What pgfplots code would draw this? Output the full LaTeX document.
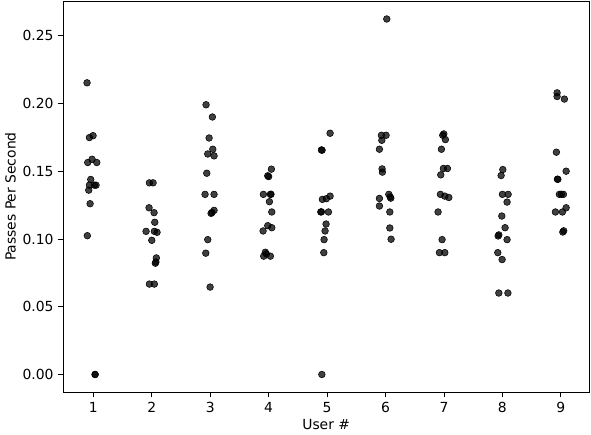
\documentclass[border=0pt]{standalone}
\usepackage{fontspec}
\setmainfont{DejaVu Sans}
\usepackage{pgfplots}
\pgfplotsset{compat=1.18}
\begin{document}
\begin{tikzpicture}
\begin{axis}[
    scale only axis,
    width=378.5pt, height=281.7pt,
    xmin=0.486, xmax=9.484,
    ymin=-0.0131, ymax=0.2756,
    xtick={1,...,9},
    ytick={0,0.05,0.1,0.15,0.2,0.25},
    yticklabel style={/pgf/number format/.cd, fixed, fixed zerofill, precision=2},
    /pgf/number format/assume math mode=true,
    tick align=outside,
    xtick pos=bottom, ytick pos=left,
    major tick length=3.5pt,
    tick style={black, line width=0.6pt},
    axis line style={line width=0.6pt},
    ticklabel style={font=\fontsize{10}{12}\selectfont},
    label style={font=\fontsize{10}{12}\selectfont},
    xlabel={User \#},
    ylabel={Passes Per Second},
    xlabel style={yshift=2pt},
    ylabel style={yshift=-2pt},
]
\addplot[only marks, mark=*, mark size=2.4pt, draw=none,
    mark options={fill=black, draw=none, fill opacity=0.75}]
coordinates {
 % user 1
 (0.892,0.2152) (0.932,0.1748) (0.995,0.1762) (0.904,0.1564) (0.978,0.1588)
 (1.058,0.1564) (0.955,0.1439) (0.932,0.1397) (1.017,0.1397) (1.046,0.1397)
 (0.921,0.1360) (0.944,0.1260) (0.897,0.1024) (1.029,0.0) (1.031,0.0)
 % user 2
 (1.959,0.1414) (2.022,0.1414) (1.953,0.1230) (2.039,0.1194) (2.051,0.1123)
 (1.902,0.1056) (2.044,0.1056) (2.090,0.1049) (2.000,0.0990) (2.078,0.0860)
 (2.061,0.0821) (2.070,0.0830) (1.959,0.0667) (2.044,0.0667)
 % user 3
 (2.929,0.1990) (3.037,0.1900) (2.981,0.1745) (3.044,0.1662) (2.958,0.1627)
 (3.066,0.1613) (2.941,0.1485) (2.912,0.1329) (3.066,0.1329) (3.066,0.1211)
 (3.015,0.1189) (3.030,0.1195) (2.958,0.0995) (2.924,0.0895) (2.998,0.0645)
 % user 4
 (4.047,0.1515) (3.985,0.1466) (4.000,0.1460) (3.910,0.1329) (4.030,0.1329)
 (4.040,0.1330) (4.013,0.1275) (4.054,0.1199) (3.985,0.1098) (4.054,0.1083)
 (3.905,0.1059) (3.944,0.0902) (3.960,0.0890) (3.916,0.0873) (4.030,0.0873)
 % user 5
 (5.052,0.1780) (4.903,0.1657) (4.915,0.1655) (5.052,0.1316) (4.920,0.1292)
 (4.988,0.1297) (4.893,0.1199) (4.903,0.1200) (5.023,0.1199) (4.983,0.1110)
 (4.966,0.1059) (4.949,0.0995) (4.944,0.0899) (4.911,0.0)
 % user 6
 (6.022,0.2623) (5.930,0.1765) (6.010,0.1765) (5.937,0.1728) (5.896,0.1662)
 (5.942,0.1517) (5.947,0.1493) (5.896,0.1299) (6.057,0.1329) (6.091,0.1301)
 (6.080,0.1310) (5.896,0.1243) (6.074,0.1199) (6.074,0.1081) (6.096,0.0998)
 % user 7
 (6.998,0.1775) (6.980,0.1765) (7.025,0.1733) (6.957,0.1662) (6.991,0.1520)
 (7.060,0.1520) (6.946,0.1473) (6.940,0.1329) (7.015,0.1316) (7.084,0.1306)
 (6.900,0.1199) (6.969,0.0995) (6.923,0.0899) (7.015,0.0899)
 % user 8
 (8.008,0.1512) (7.979,0.1468) (8.001,0.1329) (8.099,0.1329) (8.081,0.1272)
 (7.991,0.1169) (8.047,0.1083) (7.928,0.1022) (7.940,0.1030) (8.081,0.0995)
 (7.922,0.0899) (7.996,0.0848) (7.940,0.0601) (8.095,0.0601)
 % user 9
 (8.937,0.2078) (8.937,0.2051) (9.062,0.2032) (8.925,0.1640) (9.092,0.1500)
 (8.942,0.1441) (8.950,0.1440) (8.976,0.1329) (9.045,0.1329) (9.010,0.1330)
 (9.092,0.1230) (8.908,0.1199) (9.028,0.1199) (9.035,0.1051) (9.050,0.1060)
};
\end{axis}
\pgfresetboundingbox
\path (current axis.south west) ++(-45.6pt,-30.7pt) coordinate (bl);
\path (current axis.north east) ++(1.4pt,0.7pt) coordinate (tr);
\useasboundingbox (bl) rectangle (tr);
\end{tikzpicture}
\end{document}
